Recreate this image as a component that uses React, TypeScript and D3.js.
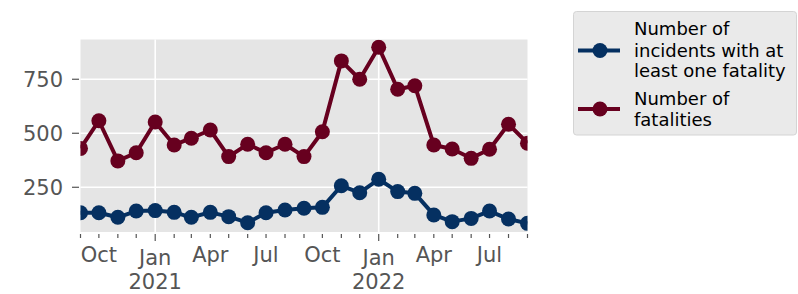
import React, { useEffect, useRef } from 'react';
import * as d3 from 'd3';

// monthly series, Sep 2020 .. Sep 2022
const months = [
  '2020-09', '2020-10', '2020-11', '2020-12',
  '2021-01', '2021-02', '2021-03', '2021-04', '2021-05', '2021-06',
  '2021-07', '2021-08', '2021-09', '2021-10', '2021-11', '2021-12',
  '2022-01', '2022-02', '2022-03', '2022-04', '2022-05', '2022-06',
  '2022-07', '2022-08', '2022-09',
];
const incidents = [
  132, 132, 111, 140, 142, 134, 111, 134, 114, 86, 132, 145,
  153, 157, 257, 225, 287, 230, 222, 122, 91, 106, 140, 103, 83,
];
const fatalities = [
  430, 558, 372, 410, 552, 446, 477, 515, 392, 449, 410, 449,
  392, 507, 835, 750, 898, 704, 720, 446, 427, 384, 426, 542, 454,
];
const yTicks = [250, 500, 750];
const xLabels = [
  { month: '2020-10', text: ['Oct'] },
  { month: '2021-01', text: ['Jan', '2021'] },
  { month: '2021-04', text: ['Apr'] },
  { month: '2021-07', text: ['Jul'] },
  { month: '2021-10', text: ['Oct'] },
  { month: '2022-01', text: ['Jan', '2022'] },
  { month: '2022-04', text: ['Apr'] },
  { month: '2022-07', text: ['Jul'] },
];
const seriesNames = [
  ['Number of', 'incidents with at', 'least one fatality'],
  ['Number of', 'fatalities'],
];
const colors = ['#053061', '#67001f'];

const W = 798;
const H = 294;
const plot = { left: 80.5, right: 527.5, top: 39.5, bottom: 232 };
const font = 'DejaVu Sans, sans-serif';

export default function App() {
  const svgRef = useRef<SVGSVGElement>(null);

  useEffect(() => {
    if (!svgRef.current) return;
    const svg = d3.select(svgRef.current);
    svg.selectAll('*').remove();

    const parse = d3.timeParse('%Y-%m');
    const dates = months.map(m => parse(m) as Date);

    const x = d3
      .scaleTime()
      .domain([dates[0], dates[dates.length - 1]])
      .range([plot.left, plot.right]);
    const y = d3.scaleLinear().domain([43, 934]).range([plot.bottom, plot.top]);

    svg
      .append('defs')
      .append('clipPath')
      .attr('id', 'plotclip')
      .append('rect')
      .attr('x', plot.left)
      .attr('y', plot.top)
      .attr('width', plot.right - plot.left)
      .attr('height', plot.bottom - plot.top);

    // background
    svg
      .append('rect')
      .attr('x', plot.left)
      .attr('y', plot.top)
      .attr('width', plot.right - plot.left)
      .attr('height', plot.bottom - plot.top)
      .attr('fill', '#e5e5e5');

    const majorDates = dates.filter(d => d.getMonth() === 0);

    // grid
    const grid = svg.append('g').attr('stroke', '#ffffff').attr('stroke-width', 1.6);
    yTicks.forEach(v => {
      grid
        .append('line')
        .attr('x1', plot.left)
        .attr('x2', plot.right)
        .attr('y1', y(v))
        .attr('y2', y(v));
    });
    majorDates.forEach(d => {
      grid
        .append('line')
        .attr('x1', x(d))
        .attr('x2', x(d))
        .attr('y1', plot.top)
        .attr('y2', plot.bottom);
    });

    // y axis ticks + labels
    yTicks.forEach(v => {
      svg
        .append('line')
        .attr('x1', 72)
        .attr('x2', 79)
        .attr('y1', y(v))
        .attr('y2', y(v))
        .attr('stroke', '#555555')
        .attr('stroke-width', 1.2);
      svg
        .append('text')
        .attr('x', 63)
        .attr('y', y(v))
        .attr('dy', '0.36em')
        .attr('text-anchor', 'end')
        .attr('font-family', font)
        .attr('font-size', 21)
        .attr('fill', '#555555')
        .text(v);
    });

    // x ticks
    dates.forEach(d => {
      const major = d.getMonth() === 0;
      svg
        .append('line')
        .attr('x1', x(d))
        .attr('x2', x(d))
        .attr('y1', 234)
        .attr('y2', major ? 241 : 238)
        .attr('stroke', '#555555')
        .attr('stroke-width', 1.2);
    });

    xLabels.forEach(l => {
      const d = parse(l.month) as Date;
      const major = d.getMonth() === 0;
      const t = svg
        .append('text')
        .attr('x', x(d))
        .attr('y', major ? 265 : 262)
        .attr('text-anchor', 'middle')
        .attr('font-family', font)
        .attr('font-size', 21)
        .attr('fill', '#555555');
      l.text.forEach((s, i) => {
        t.append('tspan')
          .attr('x', x(d))
          .attr('dy', i === 0 ? 0 : 24)
          .text(s);
      });
    });

    // series
    const body = svg.append('g').attr('clip-path', 'url(#plotclip)');
    [incidents, fatalities].forEach((vals, si) => {
      const line = d3
        .line<number>()
        .x((_, i) => x(dates[i]))
        .y(v => y(v));
      body
        .append('path')
        .attr('d', line(vals))
        .attr('fill', 'none')
        .attr('stroke', colors[si])
        .attr('stroke-width', 4)
        .attr('stroke-linejoin', 'round');
      body
        .selectAll(null)
        .data(vals)
        .enter()
        .append('circle')
        .attr('cx', (_, i) => x(dates[i]))
        .attr('cy', v => y(v))
        .attr('r', 7.5)
        .attr('fill', colors[si]);
    });

    // legend
    const lg = svg.append('g');
    lg.append('rect')
      .attr('x', 573.5)
      .attr('y', 11.5)
      .attr('width', 223)
      .attr('height', 123.5)
      .attr('rx', 3)
      .attr('fill', '#eaeaea')
      .attr('stroke', '#d4d4d4')
      .attr('stroke-width', 1);
    const handleY = [50.5, 109];
    const baselines = [
      [35, 56.5, 77],
      [105, 125.5],
    ];
    seriesNames.forEach((lines, si) => {
      lg.append('line')
        .attr('x1', 578)
        .attr('x2', 620)
        .attr('y1', handleY[si])
        .attr('y2', handleY[si])
        .attr('stroke', colors[si])
        .attr('stroke-width', 4);
      lg.append('circle')
        .attr('cx', 600)
        .attr('cy', handleY[si])
        .attr('r', 7.5)
        .attr('fill', colors[si]);
      lines.forEach((s, i) => {
        lg.append('text')
          .attr('x', 634)
          .attr('y', baselines[si][i])
          .attr('font-family', font)
          .attr('font-size', 18)
          .attr('fill', '#000000')
          .text(s);
      });
    });
  }, []);

  return (
    <svg
      ref={svgRef}
      width={W}
      height={H}
      style={{ position: 'absolute', left: 0, top: 0, background: '#ffffff' }}
    ></svg>
  );
}
